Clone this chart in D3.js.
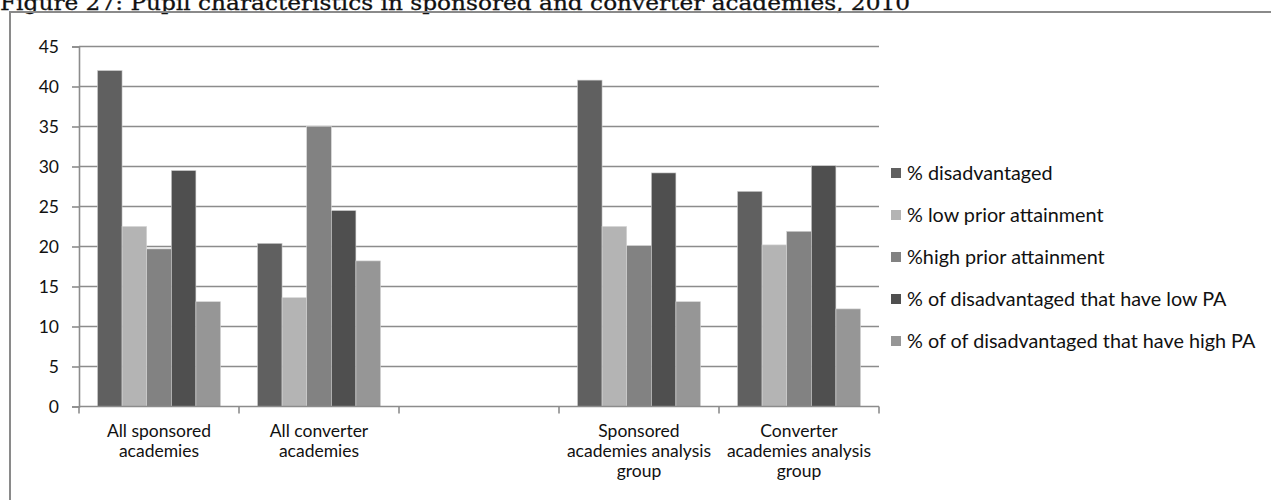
<!DOCTYPE html>
<html>
<head>
<meta charset="utf-8">
<script src="https://cdn.jsdelivr.net/npm/d3@7"></script>
<style>
  html, body { margin: 0; padding: 0; background: #fff; }
  svg { display: block; }
</style>
</head>
<body>
<svg id="chart" width="1271" height="500"></svg>
<script>
// Academy groups along the x axis (the third slot is an intentional spacer)
const categories = [
  "All sponsored\nacademies",
  "All converter\nacademies",
  "",
  "Sponsored\nacademies analysis\ngroup",
  "Converter\nacademies analysis\ngroup"
];

const seriesNames = [
  "% disadvantaged",
  "% low prior attainment",
  "%high prior attainment",
  "% of disadvantaged that have low PA",
  "% of of disadvantaged that have high PA"
];

// One array per series, one value per category (null = no bar)
const disadvantaged      = [42.0, 20.4, null, 40.8, 26.9];
const lowPriorAttainment = [22.5, 13.6, null, 22.5, 20.2];
const highPriorAttainment= [19.7, 35.0, null, 20.1, 21.9];
const disadvLowPA        = [29.5, 24.5, null, 29.2, 30.1];
const disadvHighPA       = [13.1, 18.2, null, 13.1, 12.2];

const seriesValues = [disadvantaged, lowPriorAttainment, highPriorAttainment, disadvLowPA, disadvHighPA];
const seriesColors = ["#606060", "#b4b4b4", "#828282", "#4f4f4f", "#969696"];

const yTicks = [0, 5, 10, 15, 20, 25, 30, 35, 40, 45];

const titleText = "Figure 27: Pupil characteristics in sponsored and converter academies, 2010";

const svg = d3.select("#chart");
const gridColor = "#8c8c8c";
const labelFont = "Lato, 'Open Sans', sans-serif";

// Title (sits partly above the top edge of the page)
svg.append("text")
  .attr("x", 0)
  .attr("y", 9.5)
  .attr("font-family", "'DejaVu Serif', serif")
  .attr("font-size", 21)
  .attr("fill", "#111")
  .attr("stroke", "#111")
  .attr("stroke-width", 0.3)
  .attr("textLength", 910)
  .attr("lengthAdjust", "spacingAndGlyphs")
  .text(titleText);

// Chart frame: top and left edges
svg.append("path")
  .attr("d", "M10,500 L10,12 L1271,12")
  .attr("fill", "none")
  .attr("stroke", "#8a8a8a")
  .attr("stroke-width", 2);

const plotLeft = 79, plotRight = 879, plotTop = 46.5, plotBottom = 406.5;

const x = d3.scaleBand()
  .domain(d3.range(categories.length))
  .range([plotLeft, plotRight])
  .padding(0);

const xInner = d3.scaleBand()
  .domain(d3.range(seriesNames.length))
  .range([0, x.bandwidth()])
  .paddingInner(0)
  .paddingOuter(0.75);

const y = d3.scaleLinear()
  .domain([0, 45])
  .range([plotBottom, plotTop]);

// Horizontal gridlines
svg.append("g")
  .selectAll("line")
  .data(yTicks.filter(t => t > 0))
  .join("line")
  .attr("x1", plotLeft)
  .attr("x2", plotRight)
  .attr("y1", d => y(d))
  .attr("y2", d => y(d))
  .attr("stroke", gridColor)
  .attr("stroke-width", 1.6);

// Bars
const groups = svg.append("g")
  .selectAll("g")
  .data(seriesValues)
  .join("g")
  .attr("fill", (d, i) => seriesColors[i]);

groups.each(function(vals, si) {
  d3.select(this).selectAll("rect")
    .data(vals.map((v, ci) => ({ v, ci })).filter(d => d.v != null))
    .join("rect")
    .attr("x", d => x(d.ci) + xInner(si))
    .attr("width", xInner.bandwidth())
    .attr("y", d => y(d.v))
    .attr("height", d => y(0) - y(d.v))
    .attr("stroke", "#d4d4d4")
    .attr("stroke-width", 0.6);
});

// Y axis
const yAxis = d3.axisLeft(y)
  .tickValues(yTicks)
  .tickSize(7)
  .tickPadding(13);

const yAxisG = svg.append("g")
  .attr("transform", `translate(${plotLeft},0)`)
  .call(yAxis);
yAxisG.select(".domain").attr("stroke", gridColor).attr("stroke-width", 1.6);
yAxisG.selectAll(".tick line").attr("stroke", gridColor).attr("stroke-width", 1.6);
yAxisG.selectAll(".tick text")
  .attr("font-family", labelFont)
  .attr("font-size", 17.5)
  .attr("fill", "#111");

// X axis line with tick marks at category boundaries
svg.append("line")
  .attr("x1", plotLeft).attr("x2", plotRight)
  .attr("y1", plotBottom).attr("y2", plotBottom)
  .attr("stroke", gridColor).attr("stroke-width", 1.6);

const boundaries = d3.range(categories.length + 1).map(i =>
  i < categories.length ? x(i) : x(categories.length - 1) + x.bandwidth());
svg.append("g")
  .selectAll("line")
  .data(boundaries)
  .join("line")
  .attr("x1", d => d).attr("x2", d => d)
  .attr("y1", plotBottom).attr("y2", plotBottom + 7)
  .attr("stroke", gridColor).attr("stroke-width", 1.6);

// Category labels (multi-line)
const catLabels = svg.append("g")
  .selectAll("text")
  .data(categories)
  .join("text")
  .attr("x", (d, i) => x(i) + x.bandwidth() / 2)
  .attr("y", 437)
  .attr("text-anchor", "middle")
  .attr("font-family", labelFont)
  .attr("font-size", 17.5)
  .attr("fill", "#111");

catLabels.each(function(d, i) {
  const t = d3.select(this);
  d.split("\n").forEach((line, li) => {
    t.append("tspan")
      .attr("x", x(i) + x.bandwidth() / 2)
      .attr("dy", li === 0 ? 0 : 20)
      .text(line);
  });
});

// Legend
const legend = svg.append("g")
  .selectAll("g")
  .data(seriesNames)
  .join("g")
  .attr("transform", (d, i) => `translate(891,${173 + i * 42})`);

legend.append("rect")
  .attr("x", 0).attr("y", -5)
  .attr("width", 10).attr("height", 10)
  .attr("fill", (d, i) => seriesColors[i]);

legend.append("text")
  .attr("x", 16)
  .attr("y", 0)
  .attr("dy", "0.35em")
  .attr("font-family", labelFont)
  .attr("font-size", 19.8)
  .attr("fill", "#111")
  .text(d => d);
</script>
</body>
</html>
